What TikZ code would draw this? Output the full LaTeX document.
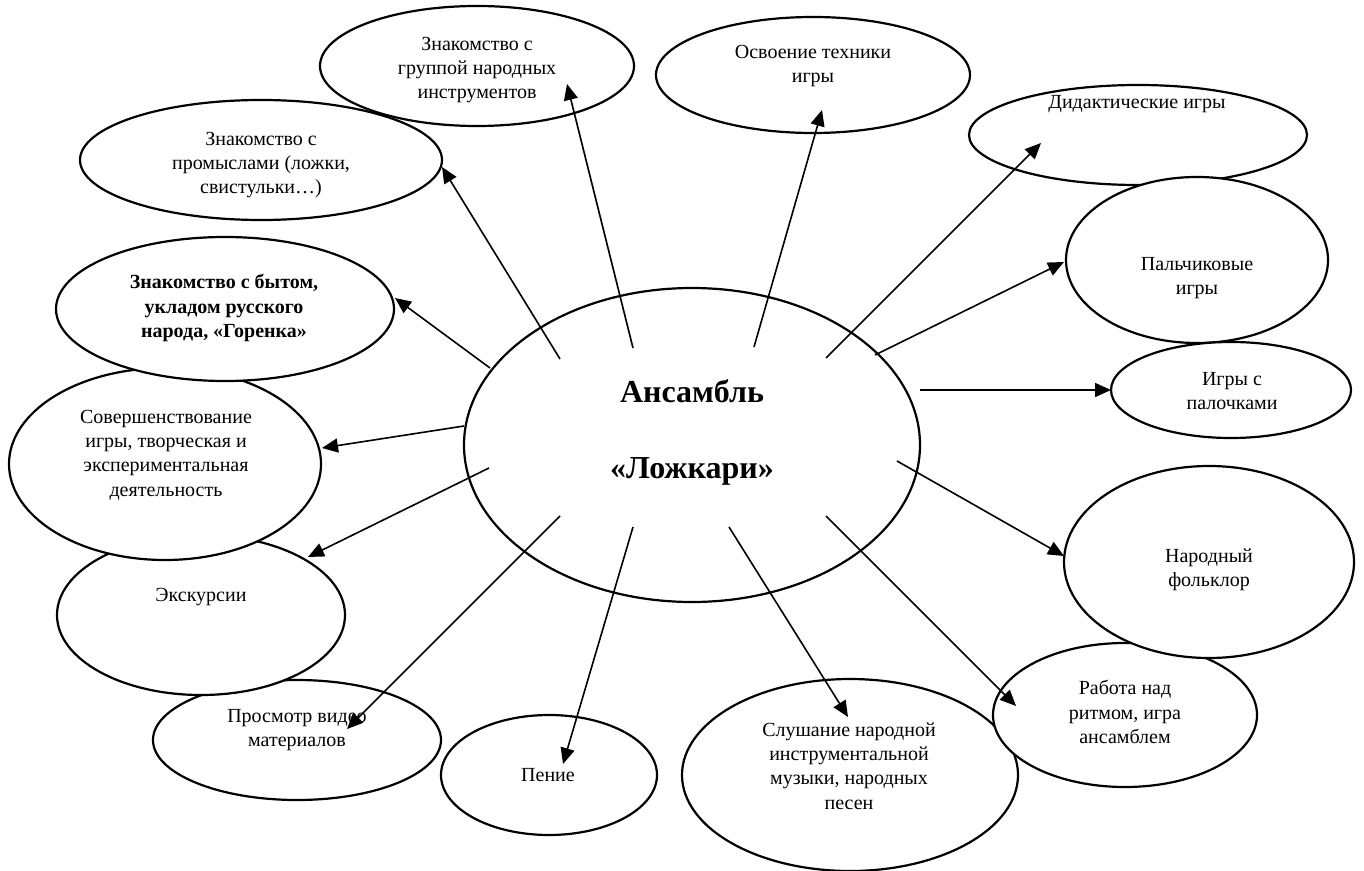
\documentclass[tikz,border=0pt]{standalone}
\usepackage{fontspec}
\setmainfont{Liberation Serif}
\usetikzlibrary{arrows.meta, shapes.geometric}
\tikzset{
  oval/.style 2 args = {ellipse, draw, fill=white, line width=1.1pt,
                        minimum width=#1pt, minimum height=#2pt, inner sep=0pt},
  ovaltxt/.style     = {font=\fontsize{10}{12.2}\selectfont, align=center, inner sep=0pt},
  hubtxt/.style      = {font=\fontsize{16}{38}\selectfont\bfseries, align=center, inner sep=0pt},
  spoke/.style       = {-{Triangle[length=8pt, width=7pt]}, line width=0.8pt},
}

\begin{document}
\begin{tikzpicture}[x=0.5pt, y=-0.5pt, line join=round]
  \useasboundingbox (0,0) rectangle (1364,871);
  % outer ovals, lower ones first
  \node[oval={144}{60}]  (video)   at (297,740)  {};
  \node[oval={144}{80}]  (ekskurs) at (201,615)  {};
  \node[oval={156}{96}]  (sovers)  at (165,464)  {};
  \node[oval={169}{72}]  (byt)     at (225,309)  {};
  \node[oval={181}{60}]  (promysl) at (261,160)  {};
  \node[oval={157}{60}]  (znakgr)  at (477,66)   {};
  \node[oval={157}{58}]  (osvoen)  at (813,75)   {};
  \node[oval={169}{50}]  (didakt)  at (1138,135) {};
  \node[oval={131}{83}]  (palch)   at (1197,260) {};
  \node[oval={120}{48}]  (palok)   at (1231,390) {};
  \node[oval={168}{96}]  (slush)   at (850,775)  {};
  \node[oval={132}{72}]  (ritm)    at (1125,715) {};
  \node[oval={145}{96}]  (folk)    at (1209,562) {};
  \node[oval={108}{60}]  (penie)   at (549,775)  {};
  \node[oval={228}{157}] (ans)     at (692,445)  {};
  % texts
  \node[hubtxt]  (ans-t)     at (692,432)  {Ансамбль\\«Ложкари»};
  \node[ovaltxt] (znakgr-t)  at (477,70)   {Знакомство с\\группой народных\\инструментов};
  \node[ovaltxt] (osvoen-t)  at (813,66)   {Освоение техники\\игры};
  \node[ovaltxt] (didakt-t)  at (1137,104) {Дидактические игры};
  \node[ovaltxt] (promysl-t) at (261,165)  {Знакомство с\\промыслами (ложки,\\свистульки…)};
  \node[ovaltxt, font=\fontsize{10}{12.2}\selectfont\bfseries]
                 (byt-t)     at (224,308)  {Знакомство с бытом,\\укладом русского\\народа, «Горенка»};
  \node[ovaltxt] (sovers-t)  at (166,455)  {Совершенствование\\игры, творческая и\\экспериментальная\\деятельность};
  \node[ovaltxt] (ekskurs-t) at (201,597)  {Экскурсии};
  \node[ovaltxt] (video-t)   at (297,730)  {Просмотр видео\\материалов};
  \node[ovaltxt] (penie-t)   at (548,775)  {Пение};
  \node[ovaltxt] (slush-t)   at (849,766)  {Слушание народной\\инструментальной\\музыки, народных\\песен};
  \node[ovaltxt] (ritm-t)    at (1125,712) {Работа над\\ритмом, игра\\ансамблем};
  \node[ovaltxt] (folk-t)    at (1209,570) {Народный\\фольклор};
  \node[ovaltxt] (palch-t)   at (1197,278) {Пальчиковые\\игры};
  \node[ovaltxt] (palok-t)   at (1232,391) {Игры с\\палочками};
  % spokes from the hub
  \foreach \k/\sx/\sy/\ex/\ey in {
      1/633/348/567/84,    2/754/347/822/110,   3/826/358/1041/143,
      4/875/355/1064/262,  5/920/390/1111/390,  6/897/461/1064/556,
      7/826/516/1016/706,  8/729/527/848/717,   9/633/527/563/764,
      10/560/516/347/729,  11/489/468/308/557,  12/464/426/322/448,
      13/490/368/395/298,  14/560/359/442/167}{%
    \coordinate (from\k) at (\sx,\sy);
    \coordinate (to\k) at (\ex,\ey);
    \draw[spoke] (from\k) -- (to\k);}
\end{tikzpicture}
\end{document}
